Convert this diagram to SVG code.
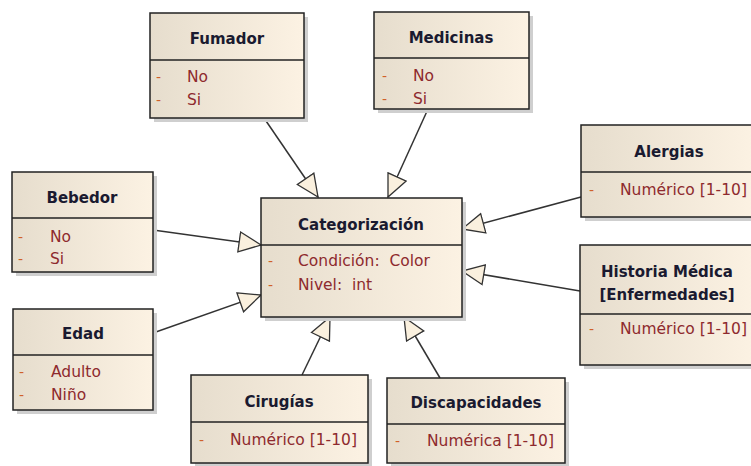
<svg xmlns="http://www.w3.org/2000/svg" width="751" height="466" viewBox="0 0 751 466">
<defs>
<linearGradient id="g" x1="0" y1="0" x2="1" y2="0">
<stop offset="0" stop-color="#e6ddcd"/>
<stop offset="1" stop-color="#fcf2e3"/>
</linearGradient>
<marker id="tri" markerUnits="userSpaceOnUse" markerWidth="26" markerHeight="24" refX="23" refY="11" orient="auto">
<path d="M1,1 L23,11 L1,21 Z" fill="#faf0de" stroke="#333" stroke-width="1.3" stroke-linejoin="miter"/>
</marker>
</defs>
<style>
.sh{fill:#cfcfcf}
.bx{fill:url(#g);stroke:#222;stroke-width:1.5}
.dv{stroke:#222;stroke-width:1.5}
.t{font-family:"DejaVu Sans",sans-serif;font-weight:bold;font-size:15px;fill:#1a1a30;text-anchor:middle}
.d{font-family:"DejaVu Sans",sans-serif;font-size:14px;fill:#d0602a}
.a{font-family:"DejaVu Sans",sans-serif;font-size:15.5px;fill:#8e2a2e;white-space:pre}
.c{stroke:#333;stroke-width:1.5;fill:none;marker-end:url(#tri)}
</style>
<rect width="751" height="466" fill="#fff"/>
<g id="connectors">
<line class="c" x1="264" y1="118" x2="318" y2="197"/>
<line class="c" x1="428" y1="109" x2="388" y2="197"/>
<line class="c" x1="153" y1="230" x2="261" y2="245"/>
<line class="c" x1="153" y1="333" x2="261" y2="295"/>
<line class="c" x1="581" y1="197" x2="462" y2="229"/>
<line class="c" x1="580" y1="291" x2="462" y2="271"/>
<line class="c" x1="302" y1="375" x2="330" y2="317"/>
<line class="c" x1="440" y1="378" x2="404" y2="317"/>
</g>
<g id="fumador">
<rect class="sh" x="154" y="17" width="154" height="105"/>
<rect class="bx" x="150" y="13" width="154" height="105"/>
<line class="dv" x1="150" y1="60" x2="304" y2="60"/>
<text class="t" x="227" y="44">Fumador</text>
<text class="d" x="156" y="82">-</text><text class="a" x="187" y="82">No</text>
<text class="d" x="156" y="105">-</text><text class="a" x="187" y="105">Si</text>
</g>
<g id="medicinas">
<rect class="sh" x="378" y="16" width="155" height="97"/>
<rect class="bx" x="374" y="12" width="155" height="97"/>
<line class="dv" x1="374" y1="58" x2="529" y2="58"/>
<text class="t" x="451" y="43">Medicinas</text>
<text class="d" x="382" y="81">-</text><text class="a" x="413" y="81">No</text>
<text class="d" x="382" y="104">-</text><text class="a" x="413" y="104">Si</text>
</g>
<g id="bebedor">
<rect class="sh" x="16" y="176" width="141" height="100"/>
<rect class="bx" x="12" y="172" width="141" height="100"/>
<line class="dv" x1="12" y1="218" x2="153" y2="218"/>
<text class="t" x="82" y="203">Bebedor</text>
<text class="d" x="18" y="242">-</text><text class="a" x="50" y="242">No</text>
<text class="d" x="18" y="264">-</text><text class="a" x="50" y="264">Si</text>
</g>
<g id="categorizacion">
<rect class="sh" x="265" y="202" width="201" height="119"/>
<rect class="bx" x="261" y="198" width="201" height="119"/>
<line class="dv" x1="261" y1="245" x2="462" y2="245"/>
<text class="t" x="361" y="230">Categorización</text>
<text class="d" x="268" y="266">-</text><text class="a" x="298" y="266" xml:space="preserve">Condición:  Color</text>
<text class="d" x="268" y="290">-</text><text class="a" x="298" y="290" xml:space="preserve">Nivel:  int</text>
</g>
<g id="alergias">
<rect class="sh" x="585" y="129" width="175" height="92"/>
<rect class="bx" x="581" y="125" width="175" height="92"/>
<line class="dv" x1="581" y1="172" x2="756" y2="172"/>
<text class="t" x="669" y="157">Alergias</text>
<text class="d" x="589" y="195">-</text><text class="a" x="620" y="195">Numérico [1-10]</text>
</g>
<g id="historia">
<rect class="sh" x="584" y="249" width="176" height="120"/>
<rect class="bx" x="580" y="245" width="176" height="120"/>
<line class="dv" x1="580" y1="314" x2="756" y2="314"/>
<text class="t" x="667" y="277">Historia Médica</text>
<text class="t" x="667" y="300">[Enfermedades]</text>
<text class="d" x="589" y="334">-</text><text class="a" x="620" y="334">Numérico [1-10]</text>
</g>
<g id="edad">
<rect class="sh" x="17" y="313" width="140" height="101"/>
<rect class="bx" x="13" y="309" width="140" height="101"/>
<line class="dv" x1="13" y1="355" x2="153" y2="355"/>
<text class="t" x="83" y="339">Edad</text>
<text class="d" x="19" y="377">-</text><text class="a" x="51" y="377">Adulto</text>
<text class="d" x="19" y="400">-</text><text class="a" x="51" y="400">Niño</text>
</g>
<g id="cirugias">
<rect class="sh" x="195" y="379" width="177" height="88"/>
<rect class="bx" x="191" y="375" width="177" height="88"/>
<line class="dv" x1="191" y1="422" x2="368" y2="422"/>
<text class="t" x="279" y="407">Cirugías</text>
<text class="d" x="199" y="445">-</text><text class="a" x="230" y="445">Numérico [1-10]</text>
</g>
<g id="discapacidades">
<rect class="sh" x="391" y="382" width="178" height="85"/>
<rect class="bx" x="387" y="378" width="178" height="85"/>
<line class="dv" x1="387" y1="424" x2="565" y2="424"/>
<text class="t" x="476" y="408">Discapacidades</text>
<text class="d" x="395" y="446">-</text><text class="a" x="427" y="446">Numérica [1-10]</text>
</g>
</svg>
